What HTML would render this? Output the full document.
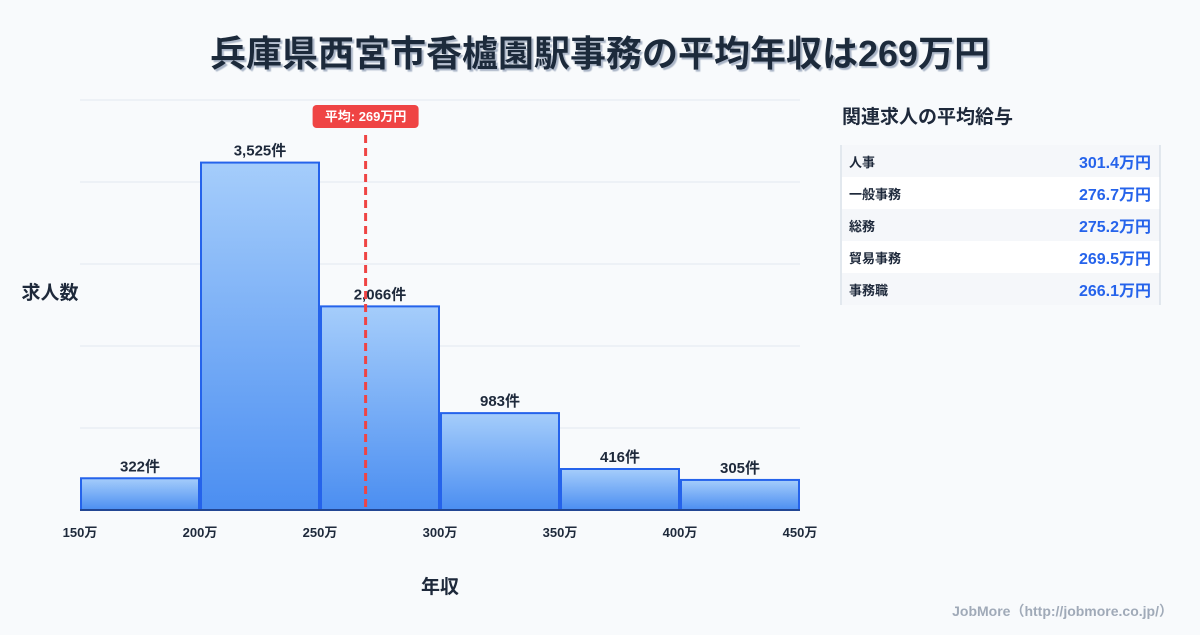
<!DOCTYPE html>
<html><head><meta charset="utf-8">
<style>
body{margin:0;width:1200px;height:630px;background:#f8fafc;font-family:"Liberation Sans","Noto Sans CJK JP",sans-serif;overflow:hidden}
svg text{font-family:"Liberation Sans","Noto Sans CJK JP",sans-serif}
</style></head>
<body>
<svg id="c" width="1200" height="630">
<defs><linearGradient id="g" x1="0" y1="0" x2="0" y2="1"><stop offset="0" stop-color="#a5cdfb"/><stop offset="1" stop-color="#4b8ef1"/></linearGradient>
<filter id="sh"><feDropShadow dx="2" dy="2" stdDeviation="0.5" flood-color="#94a3b8" flood-opacity="0.8"/></filter></defs>
<text x="600" y="66" text-anchor="middle" font-size="36" font-weight="bold" fill="#1e293b" filter="url(#sh)">兵庫県西宮市香櫨園駅事務の平均年収は269万円</text>
<g id="grid"></g><g id="bars"></g><g id="xt"></g>
<text x="50" y="299" text-anchor="middle" font-size="19" font-weight="bold" fill="#1e293b">求人数</text>
<text x="440" y="593" text-anchor="middle" font-size="19" font-weight="bold" fill="#1e293b">年収</text>
<g id="mean"></g>
<text x="842" y="123" font-size="19" font-weight="bold" fill="#1e293b">関連求人の平均給与</text>
<g id="panel"></g>
<text x="1173" y="616" text-anchor="end" font-size="14" font-weight="bold" fill="#a0aab8">JobMore（http://jobmore.co.jp/）</text>
</svg>
<script>
const binStarts=[150,200,250,300,350,400];
const counts=[322,3525,2066,983,416,305];
const xTicks=[150,200,250,300,350,400,450];
const meanValue=269;
const jobs=["人事","一般事務","総務","貿易事務","事務職"];
const salaries=[301.4,276.7,275.2,269.5,266.1];
const NS="http://www.w3.org/2000/svg";
const X=v=>80+(v-150)*2.4, Y=v=>510-v*(410/4160);
function el(p,t,a,txt){const e=document.createElementNS(NS,t);for(const k in a)e.setAttribute(k,a[k]);if(txt!=null)e.textContent=txt;document.getElementById(p).appendChild(e);return e;}
for(let i=0;i<=5;i++){const e=el('grid','line',{x1:80,x2:800,y1:510-i*82,y2:510-i*82,stroke:'#e2e8f0','stroke-width':1});
}
counts.forEach((c,i)=>{const x0=X(binStarts[i])+1,x1=X(binStarts[i]+50)-1;
const r=el('bars','rect',{x:x0,y:Y(c),width:x1-x0,height:510-Y(c),fill:'url(#g)',stroke:'#2563eb','stroke-width':2});

const t=el('bars','text',{x:(x0+x1)/2,y:Y(c)-7,'text-anchor':'middle','font-size':15,'font-weight':'bold',fill:'#1e293b'},c.toLocaleString('en-US')+'件');
});
const ax=el('xt','line',{x1:80,x2:800,y1:510,y2:510,stroke:'#1e293b','stroke-width':1});

xTicks.forEach(v=>{const t=el('xt','text',{x:X(v),y:537,'text-anchor':'middle','font-size':13,'font-weight':'bold',fill:'#1e293b'},v+'万');
});
const mx=X(meanValue);
const ml=el('mean','line',{x1:mx,x2:mx,y1:135,y2:510,stroke:'#ef4444','stroke-width':3,'stroke-dasharray':'8,5'});

const mb=el('mean','rect',{x:mx-53,y:105,width:106,height:23,rx:4,fill:'#ef4444'});

const mt=el('mean','text',{x:mx,y:121,'text-anchor':'middle','font-size':13,'font-weight':'bold',fill:'#fff'},'平均: '+meanValue+'万円');

jobs.forEach((j,i)=>{const y=145+i*32;
const r=el('panel','rect',{x:842,y:y,width:318,height:32,fill:i%2?'#ffffff':'#f5f7fa'});

const a=el('panel','text',{x:849,y:y+22,'font-size':13,'font-weight':'bold',fill:'#1e293b'},j);

const b=el('panel','text',{x:1151,y:y+23,'text-anchor':'end','font-size':16,'font-weight':'bold',fill:'#2563eb'},salaries[i].toFixed(1)+'万円');
});
[841,1160].forEach(x=>{const l=el('panel','line',{x1:x,x2:x,y1:145,y2:305,stroke:'#cbd5e1','stroke-width':1});
});
</script>
</body></html>
